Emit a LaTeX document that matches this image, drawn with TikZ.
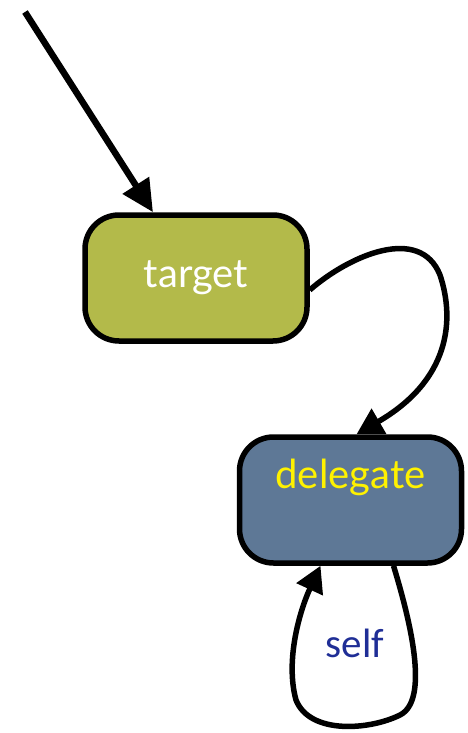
\documentclass[tikz,border=0pt]{standalone}
\usepackage{fontspec}
\setmainfont{Lato}
\newfontfamily\selffont{Carlito}
\usetikzlibrary{arrows.meta,positioning,calc}
\definecolor{olivebox}{HTML}{B3BA4A}
\definecolor{slatebox}{HTML}{5E7896}
\definecolor{selfblue}{HTML}{1F2E96}

\begin{document}
\begin{tikzpicture}[x=1pt,y=-1pt,
  every node/.style={font=\fontsize{40}{44}\selectfont},
  objbox/.style={draw=black,line width=5.5pt,rounded corners=34pt,
    minimum width=222pt,minimum height=126pt,inner sep=0pt},
  link/.style={line width=5.5pt,-{Triangle[length=26pt,width=28pt]}}]
\useasboundingbox (0,0) rectangle (468,733);

\node[objbox,fill=olivebox,text=white] (target) at (196,278) {target};
\node[objbox,fill=slatebox,
  label={[text=yellow,yshift=23pt]center:delegate}] (delegate) at (350.5,500) {};
\node[text=selfblue,font=\selffont\fontsize{41}{44}\selectfont] (selflbl) at (355,643) {self};

\coordinate (entry) at (25,12);
\draw[line width=6.5pt,-{Triangle[length=32pt,width=30pt]}] (entry) -- ($(target.north)+(-43,0)$);

% message forwarded to the delegate
\draw[link] ($(target.east)+(0,12)$) .. controls (350,255) and (420,225) .. (440,275)
  .. controls (455,320) and (450,380) .. ($(delegate.north)+(6,0)$);

% loop back on itself
\draw[link] ($(delegate.south)+(43,0)$) .. controls (410,620) and (430,700) .. (400,715)
  .. controls (370,730) and (310,735) .. (296,700)
  .. controls (285,660) and (300,610) .. ($(delegate.south)+(-30,0)$);
\end{tikzpicture}
\end{document}
